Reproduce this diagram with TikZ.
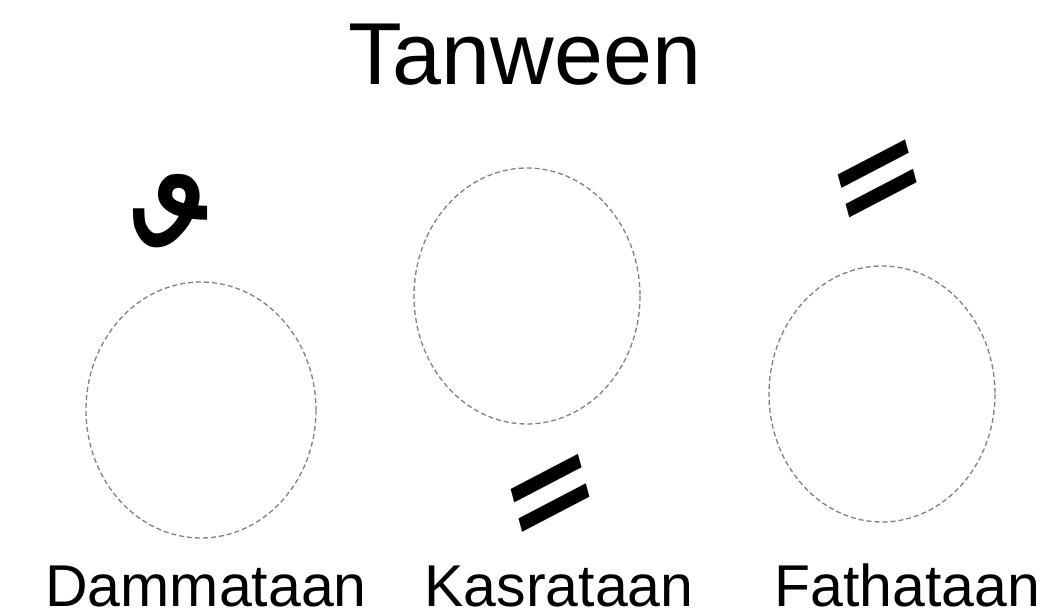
\documentclass[tikz,border=0pt]{standalone}
\usepackage{fontspec}
\setmainfont{Liberation Sans}
\newfontfamily\arabicfont[Script=Arabic]{DejaVu Sans}
\TeXXeTstate=1

\begin{document}
\begin{tikzpicture}[x=1pt,y=-1pt]

      \useasboundingbox (0,0) rectangle (1061,613);

      % Define the styles
      \tikzset{
        holder/.style={draw=gray, dash pattern=on 5pt off 3pt, line width=1.3pt},
        caption/.style={anchor=base, inner sep=0pt, font=\fontsize{59}{60}\selectfont},
        harakah/.style={inner sep=0pt, font=\arabicfont\fontsize{260}{260}\selectfont}
      }

      % Define the positions of the nodes
      \node[anchor=base, inner sep=0pt, font=\fontsize{88}{90}\selectfont] (title) at (525,84) {Tanween};

      \node[caption] (dammataan) at (206,606) {Dammataan};
      \node[caption] (kasrataan) at (559,606) {Kasrataan};
      \node[caption] (fathataan) at (907,606) {Fathataan};

      \node[harakah] (damma) at (105,288) {\beginR ٌ\endR};
      \node[harakah, rotate=15] (kasra) at (488,510) {\beginR ٍ\endR};
      \node[harakah, rotate=15] (fatha) at (835,270) {\beginR ً\endR};

      % Draw the holders
      \draw[holder] (201,410) ellipse [x radius=115, y radius=128];
      \draw[holder] (527,296) ellipse [x radius=113, y radius=128];
      \draw[holder] (882,394) ellipse [x radius=113, y radius=128];
  \end{tikzpicture}
\end{document}
